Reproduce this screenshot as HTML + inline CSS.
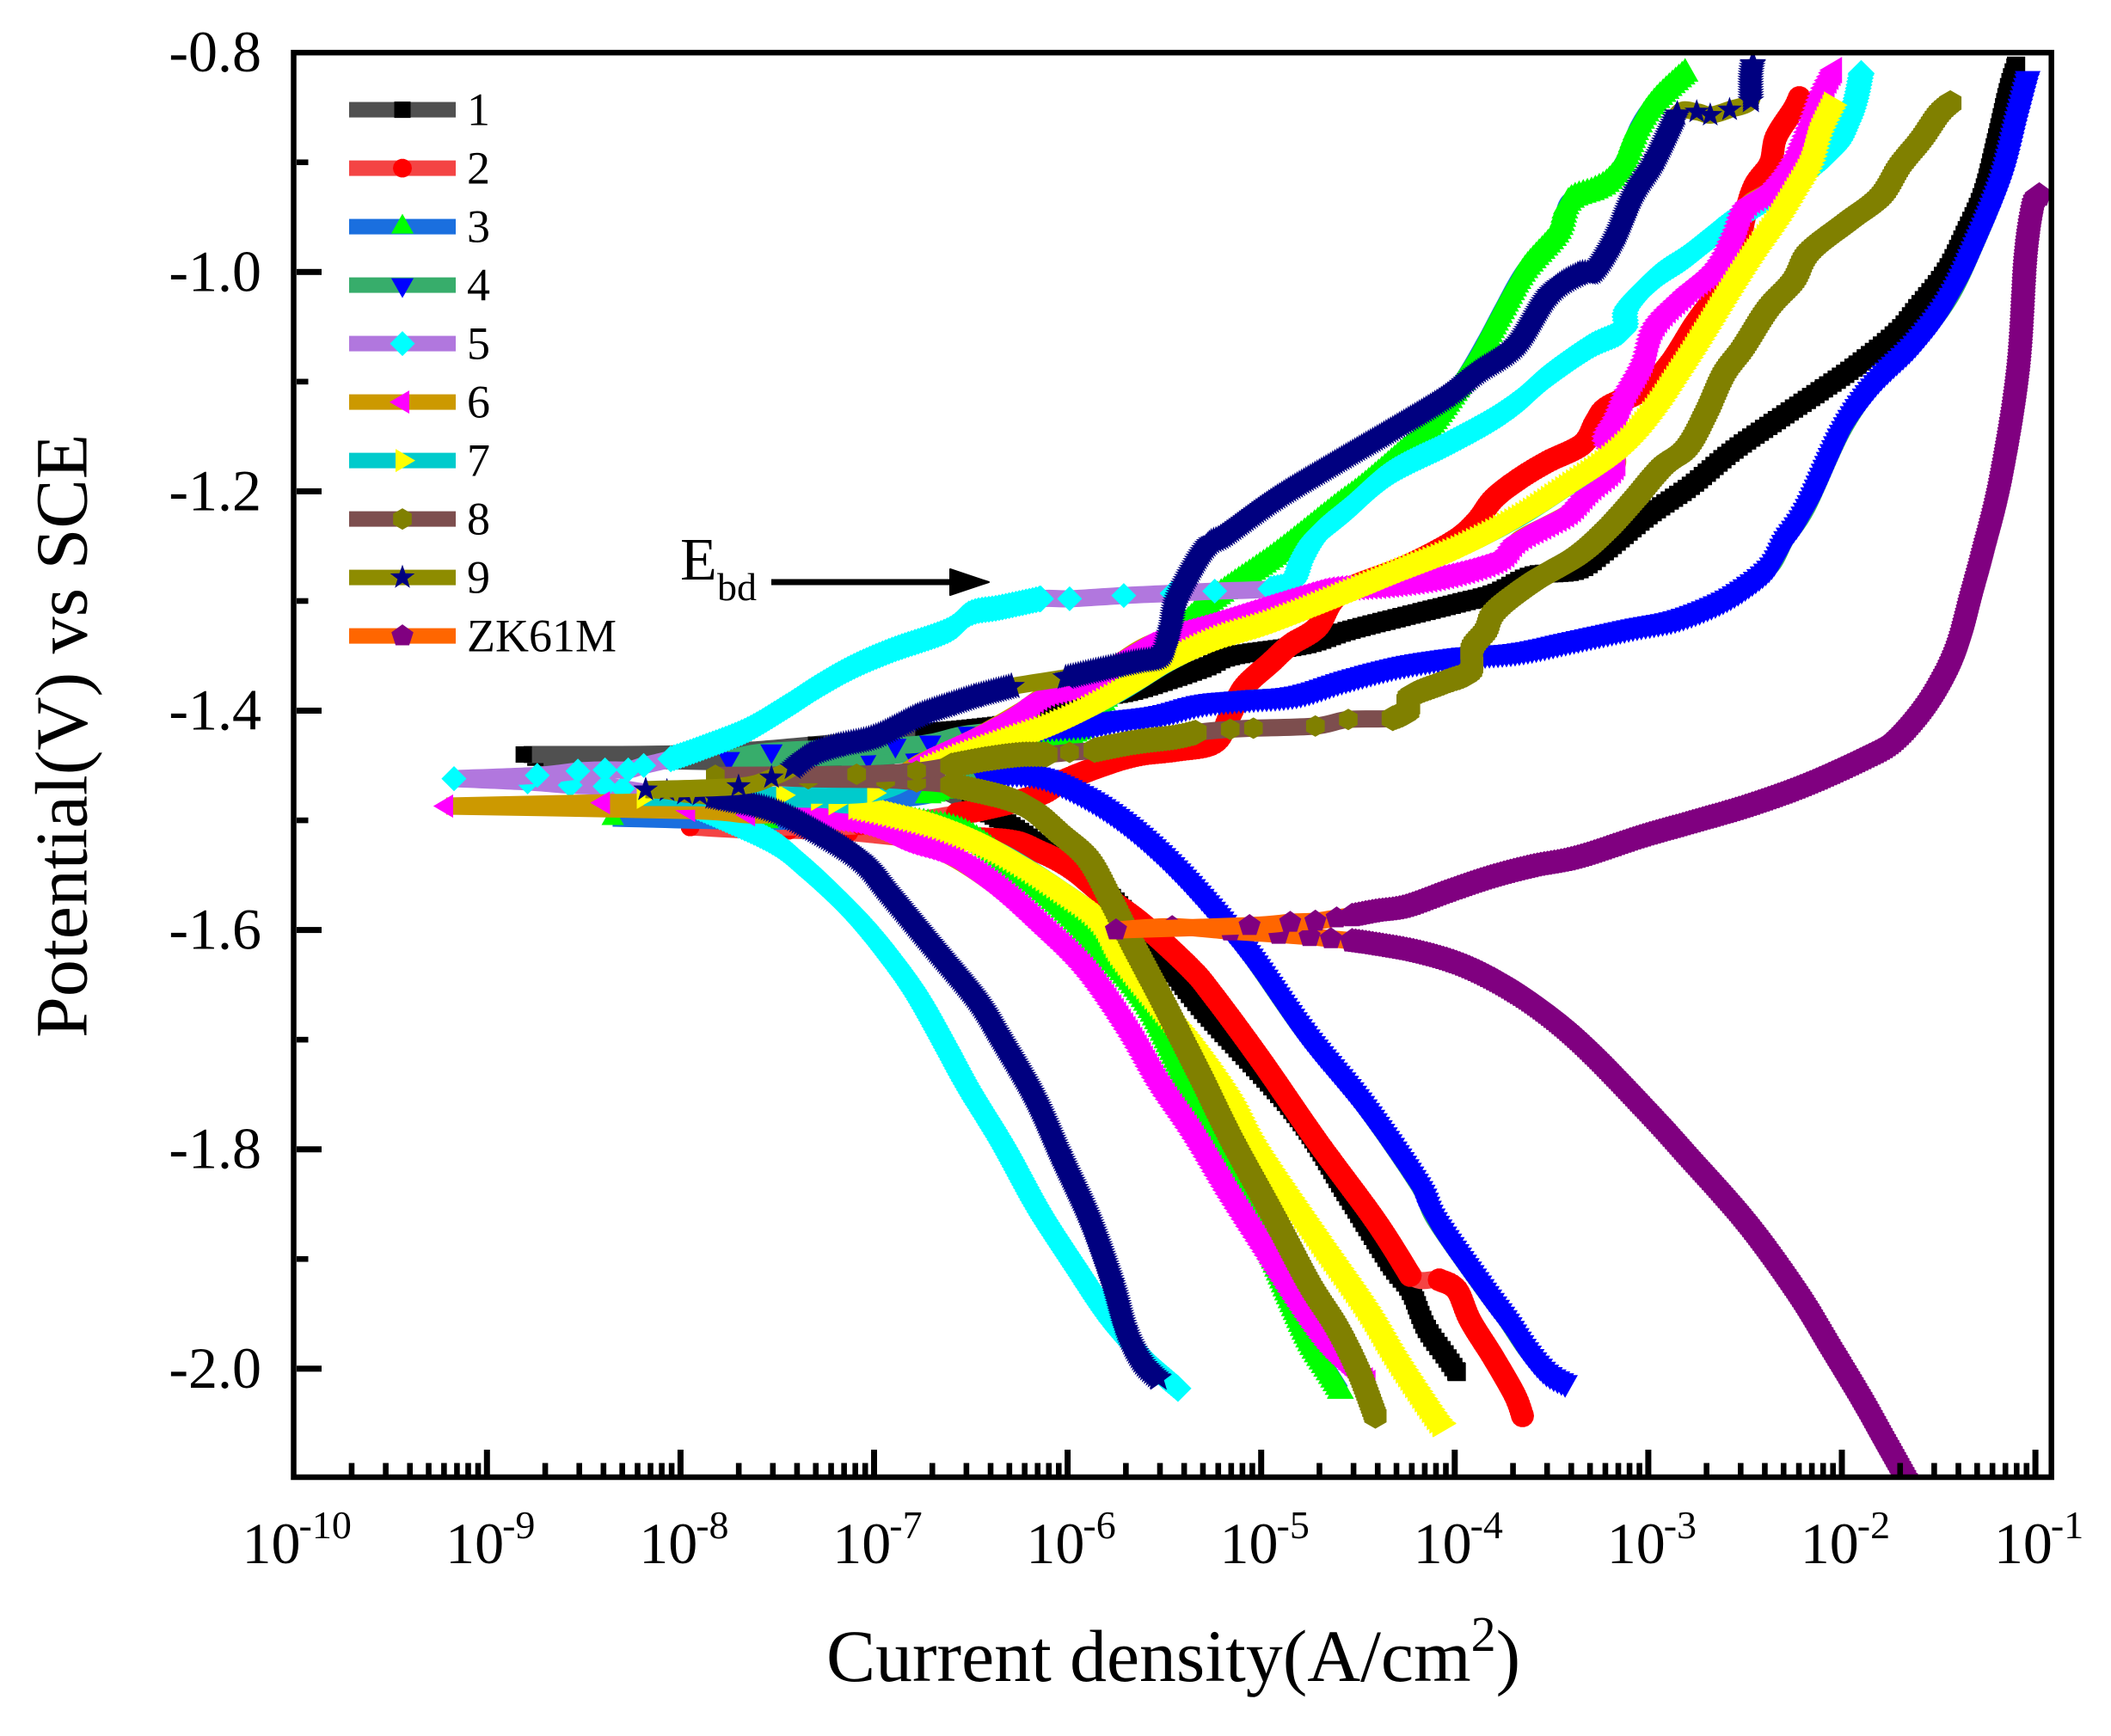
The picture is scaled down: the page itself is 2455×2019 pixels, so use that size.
<!DOCTYPE html>
<html lang="en">
<head>
<meta charset="utf-8">
<title>Polarization curves</title>
<style>
html,body{margin:0;padding:0;background:#fff;}
svg{display:block;font-family:"Liberation Serif","Times New Roman",serif;}
</style>
</head>
<body>
<svg id="chart" xmlns="http://www.w3.org/2000/svg" width="2455" height="2019" viewBox="0 0 2455 2019">
  <rect x="0" y="0" width="2455" height="2019" fill="#ffffff"/>
  <defs><clipPath id="plot-clip"><rect x="341" y="61" width="2045" height="1657"/></clipPath></defs>
  <g id="series-layer" clip-path="url(#plot-clip)"></g>
  <g id="tick-layer"></g>
  <rect x="341.5" y="61.2" width="2044.2" height="1656.8" fill="none" stroke="#000" stroke-width="6.5"/>
  <g id="legend-layer"></g>
  <text x="961" y="1955" font-size="85.7" fill="#000">Current density(A/cm<tspan font-size="58" dy="-35">2</tspan><tspan dy="35">)</tspan></text>
  <text transform="translate(100.5,1207) rotate(-90)" font-size="86" fill="#000">Potential(V) vs SCE</text>
  <text x="791" y="674" font-size="70" fill="#000">E</text>
  <text x="834" y="698" font-size="46" fill="#000">bd</text>
  <g>
    <rect x="897" y="673.5" width="210" height="7" fill="#000"/>
    <polygon points="1105,662 1150,677 1105,692" fill="#000" stroke="#000" stroke-width="2" stroke-linejoin="round"/>
  </g>
</svg>
<script>
// Tick values
const xTickExponents=[-10,-9,-8,-7,-6,-5,-4,-3,-2,-1];
const xTickLabels=['-10','-9','-8','-7','-6','-5','-4','-3','-2','-1'];
const yMajorTicks=[-0.8,-1.0,-1.2,-1.4,-1.6,-1.8,-2.0];
const yMajorLabels=['-0.8','-1.0','-1.2','-1.4','-1.6','-1.8','-2.0'];
const yMinorTicks=[-0.9,-1.1,-1.3,-1.5,-1.7,-1.9];
const seriesNames=['1','2','3','4','5','6','7','8','9','ZK61M'];

// Series 1
const s1AnodicI=[-8.81,-7.94,-7.30,-6.74,-6.48,-6.14,-6.04,-5.92,-5.66,-5.30,-5.15,-4.78,-4.55,-4.26,-3.96,-3.79,-3.60,-3.37,-3.22,-3.00,-2.78,-2.57,-2.36,-2.10,-1.93,-1.72,-1.61,-1.46,-1.36,-1.27,-1.20,-1.14,-1.10];
const s1AnodicE=[-1.440,-1.439,-1.431,-1.420,-1.416,-1.408,-1.397,-1.389,-1.382,-1.361,-1.350,-1.340,-1.327,-1.314,-1.301,-1.293,-1.277,-1.272,-1.254,-1.222,-1.195,-1.164,-1.138,-1.107,-1.086,-1.056,-1.033,-0.999,-0.964,-0.928,-0.879,-0.834,-0.812];
const s1CathodicI=[-8.75,-7.69,-7.21,-6.81,-6.50,-6.33,-6.13,-6.01,-5.77,-5.56,-5.30,-4.83,-4.55,-4.33,-4.23,-4.15,-4.04,-3.99];
const s1CathodicE=[-1.443,-1.447,-1.447,-1.461,-1.485,-1.501,-1.524,-1.536,-1.571,-1.614,-1.673,-1.766,-1.843,-1.905,-1.928,-1.962,-1.990,-2.003];
// Series 2
const s2AnodicI=[-7.95,-7.07,-6.57,-6.44,-6.15,-6.01,-5.77,-5.62,-5.43,-5.24,-5.16,-5.09,-4.95,-4.85,-4.71,-4.59,-4.26,-4.01,-3.89,-3.80,-3.67,-3.52,-3.34,-3.27,-3.21,-3.02,-2.89,-2.76,-2.66,-2.55,-2.50,-2.45,-2.37,-2.34,-2.25,-2.22];
const s2AnodicE=[-1.506,-1.505,-1.494,-1.490,-1.477,-1.463,-1.447,-1.440,-1.436,-1.429,-1.404,-1.379,-1.356,-1.340,-1.324,-1.293,-1.269,-1.246,-1.228,-1.207,-1.189,-1.173,-1.157,-1.136,-1.123,-1.107,-1.084,-1.048,-1.023,-0.987,-0.948,-0.921,-0.901,-0.877,-0.852,-0.841];
const s2CathodicI=[-7.95,-7.64,-7.44,-7.13,-6.81,-6.33,-6.15,-5.98,-5.80,-5.61,-5.37,-5.25,-5.00,-4.71,-4.41,-4.23,-4.08,-3.99,-3.92,-3.80,-3.69,-3.65];
const s2CathodicE=[-1.506,-1.509,-1.509,-1.511,-1.516,-1.518,-1.528,-1.544,-1.570,-1.595,-1.634,-1.659,-1.719,-1.793,-1.865,-1.915,-1.919,-1.928,-1.956,-1.990,-2.024,-2.043];
// Series 3
const s3AnodicI=[-8.35,-7.55,-7.07,-6.72,-6.48,-6.33,-6.07,-5.98,-5.89,-5.74,-5.59,-5.30,-4.93,-4.63,-4.48,-4.27,-4.14,-3.96,-3.84,-3.75,-3.64,-3.47,-3.41,-3.28,-3.20,-3.12,-3.05,-2.96,-2.81];
const s3AnodicE=[-1.498,-1.493,-1.483,-1.477,-1.460,-1.452,-1.432,-1.422,-1.411,-1.372,-1.358,-1.306,-1.259,-1.217,-1.197,-1.165,-1.144,-1.099,-1.063,-1.033,-0.999,-0.964,-0.936,-0.926,-0.917,-0.897,-0.867,-0.844,-0.819];
const s3CathodicI=[-8.35,-7.55,-7.07,-6.81,-6.55,-6.33,-6.04,-5.82,-5.59,-5.40,-5.24,-5.12,-5.02,-4.90,-4.85,-4.75,-4.65,-4.59];
const s3CathodicE=[-1.498,-1.501,-1.498,-1.501,-1.510,-1.536,-1.578,-1.618,-1.667,-1.732,-1.787,-1.830,-1.865,-1.915,-1.936,-1.975,-2.003,-2.020];
// Series 4
const s4AnodicI=[-7.75,-7.53,-6.89,-6.71,-6.51,-6.18,-5.89,-5.74,-5.52,-5.30,-5.07,-4.81,-4.55,-4.26,-3.96,-3.67,-3.37,-3.08,-2.85,-2.63,-2.48,-2.36,-2.29,-2.18,-2.00,-1.83,-1.61,-1.44,-1.31,-1.18,-1.10,-1.04];
const s4AnodicE=[-1.444,-1.437,-1.432,-1.429,-1.421,-1.416,-1.413,-1.408,-1.403,-1.393,-1.389,-1.385,-1.371,-1.358,-1.350,-1.346,-1.335,-1.324,-1.316,-1.301,-1.285,-1.267,-1.244,-1.215,-1.146,-1.102,-1.063,-1.023,-0.975,-0.918,-0.864,-0.824];
const s4CathodicI=[-7.75,-7.03,-6.80,-6.63,-6.44,-6.18,-5.96,-5.74,-5.52,-5.30,-5.07,-4.78,-4.48,-4.19,-4.10,-3.85,-3.74,-3.63,-3.53,-3.43];
const s4CathodicE=[-1.444,-1.442,-1.440,-1.446,-1.458,-1.458,-1.473,-1.497,-1.530,-1.571,-1.620,-1.693,-1.758,-1.832,-1.865,-1.928,-1.954,-1.983,-2.003,-2.013];
// Series 5
const s5AnodicI=[-9.17,-8.74,-8.53,-8.39,-8.27,-8.19,-8.05,-7.89,-7.66,-7.44,-7.30,-7.12,-6.91,-6.62,-6.50,-6.35,-6.14,-5.99,-5.71,-5.46,-5.24,-4.95,-4.84,-4.79,-4.71,-4.55,-4.33,-4.04,-3.82,-3.67,-3.52,-3.30,-3.13,-3.11,-2.96,-2.81,-2.68,-2.57,-2.28,-2.05,-1.97,-1.93,-1.90];
const s5AnodicE=[-1.462,-1.459,-1.455,-1.454,-1.454,-1.450,-1.444,-1.434,-1.418,-1.395,-1.379,-1.361,-1.345,-1.327,-1.311,-1.306,-1.298,-1.298,-1.295,-1.293,-1.291,-1.289,-1.283,-1.262,-1.240,-1.216,-1.183,-1.157,-1.136,-1.118,-1.095,-1.068,-1.053,-1.033,-1.005,-0.987,-0.969,-0.954,-0.921,-0.889,-0.864,-0.844,-0.819];
const s5CathodicI=[-9.17,-8.79,-8.57,-8.39,-8.30,-8.01,-7.77,-7.52,-7.37,-7.22,-7.07,-6.93,-6.78,-6.63,-6.51,-6.33,-6.15,-5.96,-5.77,-5.59,-5.43];
const s5CathodicE=[-1.462,-1.465,-1.468,-1.469,-1.471,-1.481,-1.499,-1.520,-1.541,-1.565,-1.592,-1.622,-1.659,-1.706,-1.745,-1.797,-1.855,-1.907,-1.957,-1.993,-2.018];
// Series 6
const s6AnodicI=[-9.21,-8.40,-7.67,-7.03,-6.75,-6.48,-6.24,-6.11,-5.89,-5.59,-5.22,-4.78,-4.63,-4.33,-4.04,-3.77,-3.67,-3.52,-3.40,-3.30,-3.16,-3.22,-3.16,-3.11,-3.02,-2.96,-2.81,-2.64,-2.55,-2.49,-2.36,-2.25,-2.17,-2.10,-2.04];
const s6AnodicE=[-1.487,-1.484,-1.481,-1.471,-1.446,-1.424,-1.400,-1.385,-1.374,-1.340,-1.319,-1.295,-1.289,-1.285,-1.277,-1.262,-1.244,-1.230,-1.218,-1.199,-1.175,-1.152,-1.131,-1.110,-1.081,-1.048,-1.020,-0.994,-0.964,-0.939,-0.924,-0.900,-0.870,-0.837,-0.816];
const s6CathodicI=[-9.21,-7.96,-7.65,-7.39,-7.07,-6.85,-6.63,-6.36,-6.11,-5.89,-5.68,-5.52,-5.34,-5.16,-4.99,-4.79,-4.63,-4.45];
const s6CathodicE=[-1.487,-1.491,-1.495,-1.495,-1.502,-1.518,-1.531,-1.562,-1.601,-1.640,-1.693,-1.742,-1.789,-1.842,-1.889,-1.944,-1.983,-2.013];
// Series 7
const s7AnodicI=[-8.19,-7.47,-7.00,-6.72,-6.55,-6.33,-6.04,-5.74,-5.47,-5.22,-4.93,-4.55,-4.26,-3.96,-3.67,-3.44,-3.22,-3.08,-2.96,-2.87,-2.76,-2.60,-2.47,-2.34,-2.25,-2.17,-2.12,-2.05];
const s7AnodicE=[-1.479,-1.477,-1.475,-1.454,-1.442,-1.429,-1.411,-1.385,-1.356,-1.335,-1.319,-1.293,-1.272,-1.251,-1.225,-1.199,-1.173,-1.150,-1.123,-1.099,-1.069,-1.023,-0.987,-0.954,-0.928,-0.903,-0.874,-0.848];
const s7CathodicI=[-8.19,-7.29,-7.20,-7.09,-6.93,-6.63,-6.33,-6.04,-5.84,-5.73,-5.52,-5.36,-5.17,-5.03,-4.73,-4.47,-4.31,-4.12,-4.07];
const s7CathodicE=[-1.479,-1.481,-1.485,-1.487,-1.493,-1.507,-1.530,-1.562,-1.589,-1.622,-1.669,-1.703,-1.751,-1.797,-1.875,-1.941,-1.988,-2.039,-2.050];
// Series 8
const s8AnodicI=[-7.82,-7.09,-6.78,-6.60,-6.42,-6.24,-6.11,-5.99,-5.86,-5.66,-5.44,-5.34,-5.16,-5.04,-4.72,-4.55,-4.32,-4.24,-4.23,-4.05,-3.92,-3.91,-3.84,-3.79,-3.60,-3.37,-3.22,-3.08,-2.93,-2.80,-2.70,-2.61,-2.51,-2.38,-2.25,-2.17,-1.97,-1.80,-1.70,-1.59,-1.50,-1.44];
const s8AnodicE=[-1.459,-1.458,-1.455,-1.450,-1.444,-1.440,-1.440,-1.438,-1.436,-1.429,-1.424,-1.420,-1.417,-1.416,-1.414,-1.408,-1.407,-1.400,-1.387,-1.374,-1.364,-1.343,-1.327,-1.309,-1.283,-1.259,-1.236,-1.209,-1.178,-1.160,-1.128,-1.093,-1.069,-1.033,-1.008,-0.982,-0.954,-0.931,-0.903,-0.879,-0.856,-0.846];
const s8CathodicI=[-7.82,-7.34,-6.94,-6.78,-6.60,-6.33,-6.18,-6.04,-5.89,-5.77,-5.66,-5.52,-5.40,-5.30,-5.15,-4.93,-4.75,-4.61,-4.50,-4.41];
const s8CathodicE=[-1.459,-1.462,-1.463,-1.465,-1.468,-1.479,-1.491,-1.512,-1.536,-1.575,-1.614,-1.661,-1.703,-1.738,-1.792,-1.863,-1.923,-1.962,-2.001,-2.043];
// Series 9
const s9AnodicI=[-8.18,-7.70,-7.53,-7.42,-7.33,-7.19,-7.00,-6.78,-6.62,-6.48,-6.29,-6.01,-5.84,-5.66,-5.52,-5.47,-5.44,-5.35,-5.27,-5.19,-4.93,-4.63,-4.33,-4.04,-3.89,-3.68,-3.51,-3.36,-3.28,-3.17,-3.07,-2.96,-2.85,-2.75,-2.68,-2.58,-2.47,-2.47,-2.46];
const s9AnodicE=[-1.472,-1.469,-1.461,-1.452,-1.440,-1.432,-1.424,-1.405,-1.395,-1.387,-1.378,-1.370,-1.363,-1.356,-1.350,-1.327,-1.301,-1.269,-1.248,-1.240,-1.207,-1.175,-1.144,-1.113,-1.092,-1.066,-1.020,-1.002,-0.999,-0.969,-0.928,-0.897,-0.856,-0.854,-0.857,-0.852,-0.844,-0.823,-0.810];
const s9CathodicI=[-8.18,-8.07,-7.98,-7.90,-7.83,-7.77,-7.52,-7.30,-7.07,-6.93,-6.71,-6.48,-6.36,-6.18,-6.04,-5.89,-5.77,-5.70,-5.62,-5.53];
const s9CathodicE=[-1.472,-1.473,-1.476,-1.477,-1.479,-1.481,-1.491,-1.510,-1.536,-1.565,-1.612,-1.661,-1.695,-1.750,-1.805,-1.863,-1.922,-1.965,-1.993,-2.009];
// Series ZK61M
const s10AnodicI=[-5.75,-5.06,-4.85,-4.72,-4.61,-4.53,-4.41,-4.26,-4.04,-3.82,-3.60,-3.37,-3.04,-2.78,-2.49,-2.19,-1.89,-1.74,-1.60,-1.49,-1.40,-1.33,-1.27,-1.18,-1.09,-1.05,-1.01,-0.98];
const s10AnodicE=[-1.600,-1.596,-1.593,-1.592,-1.589,-1.587,-1.583,-1.579,-1.565,-1.552,-1.542,-1.534,-1.515,-1.502,-1.487,-1.468,-1.444,-1.429,-1.403,-1.374,-1.340,-1.295,-1.256,-1.191,-1.092,-0.987,-0.939,-0.930];
const s10CathodicI=[-5.75,-5.46,-5.16,-4.91,-4.75,-4.64,-4.53,-4.41,-4.19,-3.96,-3.74,-3.52,-3.30,-3.00,-2.82,-2.50,-2.24,-2.07,-1.90,-1.77,-1.63];
const s10CathodicE=[-1.600,-1.597,-1.601,-1.604,-1.606,-1.608,-1.610,-1.613,-1.620,-1.632,-1.651,-1.677,-1.711,-1.766,-1.801,-1.865,-1.928,-1.977,-2.027,-2.068,-2.112];

// Axis functions
const xScale=v=>341.2+(v+10)*225.1;
const yScale=v=>61.2+(-0.8-v)*1275.5;

const seriesStyles=[
 {marker:'square',color:'#000000',line:'#505050',scale:1.12,step:6,aD:[[3,null]],cD:[[4,null]]},
 {marker:'circle',color:'#ff0000',line:'#f44444',scale:1.22,step:4,aD:[[2,null]],cD:[[4,15],[16,null]]},
 {marker:'up',color:'#00ff00',line:'#1a6fdf',scale:1.2,step:5,aD:[[3,null]],cD:[[3,null]]},
 {marker:'down',color:'#0000ff',line:'#37ad6b',scale:1.15,step:5,aD:[[5,null]],cD:[[4,null]]},
 {marker:'diamond',color:'#00ffff',line:'#b177de',scale:1.08,step:4,aD:[[6,16],[21,null]],cD:[[5,null]]},
 {marker:'left',color:'#ff00ff',line:'#cc9900',scale:1.15,step:5,aD:[[4,null]],cD:[[3,null]]},
 {marker:'right',color:'#ffff00',line:'#00cbcc',scale:1.2,step:5,aD:[[3,null]],cD:[[3,null]]},
 {marker:'hexagon',color:'#808000',line:'#7d4e4e',scale:1.2,step:4,aD:[[3,6],[8,11],[16,null]],cD:[[4,null]]},
 {marker:'star',color:'#000080',line:'#8e8c00',scale:1.1,step:3,aD:[[3,10],[11,32],[36,null]],cD:[[4,null]]},
 {marker:'pentagon',color:'#800080',line:'#ff6600',scale:1.12,step:4,aD:[[5,null]],cD:[[6,null]]}
];
const seriesData=[
 [s1AnodicI,s1AnodicE,s1CathodicI,s1CathodicE],
 [s2AnodicI,s2AnodicE,s2CathodicI,s2CathodicE],
 [s3AnodicI,s3AnodicE,s3CathodicI,s3CathodicE],
 [s4AnodicI,s4AnodicE,s4CathodicI,s4CathodicE],
 [s5AnodicI,s5AnodicE,s5CathodicI,s5CathodicE],
 [s6AnodicI,s6AnodicE,s6CathodicI,s6CathodicE],
 [s7AnodicI,s7AnodicE,s7CathodicI,s7CathodicE],
 [s8AnodicI,s8AnodicE,s8CathodicI,s8CathodicE],
 [s9AnodicI,s9AnodicE,s9CathodicI,s9CathodicE],
 [s10AnodicI,s10AnodicE,s10CathodicI,s10CathodicE]
];

const NS='http://www.w3.org/2000/svg';
function svgEl(tag,parent){const e=document.createElementNS(NS,tag);parent.appendChild(e);return e;}
function regular(x,y,r,n,start){
  const a=[];
  for(let i=0;i<n;i++){const t=start+i*2*Math.PI/n;a.push([x+r*Math.cos(t),y+r*Math.sin(t)]);}
  return a;
}
function markerPoints(type,x,y,s){
  if(type==='square'){return [[x-9.5*s,y-9.5*s],[x+9.5*s,y-9.5*s],[x+9.5*s,y+9.5*s],[x-9.5*s,y+9.5*s]];}
  if(type==='circle'){return regular(x,y,11*s,18,0);}
  if(type==='up'){return [[x,y-15*s],[x+13*s,y+8*s],[x-13*s,y+8*s]];}
  if(type==='down'){return [[x,y+15*s],[x-13*s,y-8*s],[x+13*s,y-8*s]];}
  if(type==='left'){return [[x-15*s,y],[x+8*s,y-13.5*s],[x+8*s,y+13.5*s]];}
  if(type==='right'){return [[x+15*s,y],[x-8*s,y+13.5*s],[x-8*s,y-13.5*s]];}
  if(type==='diamond'){return [[x,y-14.5*s],[x+14.5*s,y],[x,y+14.5*s],[x-14.5*s,y]];}
  if(type==='hexagon'){return regular(x,y,12.5*s,6,-Math.PI/2);}
  if(type==='pentagon'){return regular(x,y,13.5*s,5,-Math.PI/2);}
  const pts=[];
  for(let i=0;i<10;i++){const r=(i%2?6:15)*s;const t=-Math.PI/2+i*Math.PI/5;pts.push([x+r*Math.cos(t),y+r*Math.sin(t)]);}
  return pts;
}
function pointsToD(pts){
  return 'M'+pts.map(q=>q[0].toFixed(1)+' '+q[1].toFixed(1)).join('L')+'Z';
}
function drawMarker(parent,type,x,y,fill){
  const m=svgEl('path',parent);
  m.setAttribute('d',pointsToD(markerPoints(type,x,y,1)));
  m.setAttribute('fill',fill);
  return m;
}
// Smooth path through the data points in the given index range
function pathFrom(I,E,from,to){
  const p=[];
  for(let k=from;k<=to;k++){p.push([xScale(I[k]),yScale(E[k])]);}
  let s='M'+p[0][0].toFixed(1)+' '+p[0][1].toFixed(1);
  for(let k=0;k<p.length-1;k++){
    const a=p[Math.max(k-1,0)],b=p[k],c=p[k+1],d=p[Math.min(k+2,p.length-1)];
    const c1x=b[0]+(c[0]-a[0])/6,c1y=b[1]+(c[1]-a[1])/6,c2x=c[0]-(d[0]-b[0])/6,c2y=c[1]-(d[1]-b[1])/6;
    s+='C'+c1x.toFixed(1)+' '+c1y.toFixed(1)+' '+c2x.toFixed(1)+' '+c2y.toFixed(1)+' '+c[0].toFixed(1)+' '+c[1].toFixed(1);
  }
  return s;
}
function drawBranch(group,I,E,style,ranges,branch){
  const band=svgEl('path',group);
  
  
  band.setAttribute('d',pathFrom(I,E,0,I.length-1));
  band.setAttribute('fill','none');
  band.setAttribute('stroke',style.line);
  band.setAttribute('stroke-width',20);
  band.setAttribute('stroke-linejoin','round');
  ranges.forEach(r=>{
    const guide=svgEl('path',group);
    guide.setAttribute('d',pathFrom(I,E,r[0],r[1]===null?I.length-1:r[1]));
    const len=guide.getTotalLength();
    let d='';
    for(let l=0;l<=len;l+=style.step){
      const q=guide.getPointAtLength(l);
      d+=pointsToD(markerPoints(style.marker,q.x,q.y,style.scale));
    }
    const q=guide.getPointAtLength(len);
    d+=pointsToD(markerPoints(style.marker,q.x,q.y,style.scale));
    
    
    guide.setAttribute('d',d);
    guide.setAttribute('fill',style.color);
  });
  for(let k=0;k<I.length;k++){
    const mark=drawMarker(group,style.marker,xScale(I[k]),yScale(E[k]),style.color);
    
    
  }
}

const seriesLayer=document.getElementById('series-layer');
seriesData.forEach((d,i)=>{
  const g=svgEl('g',seriesLayer);
  
  
  const st=seriesStyles[i];
  drawBranch(g,d[2],d[3],st,st.cD,'cathodic');
  drawBranch(g,d[0],d[1],st,st.aD,'anodic');
});

// Ticks and tick labels
const tickLayer=document.getElementById('tick-layer');
function tickRect(x,y,w,h,name){
  const t=svgEl('rect',tickLayer);
  
  
  t.setAttribute('x',x);t.setAttribute('y',y);t.setAttribute('width',w);t.setAttribute('height',h);t.setAttribute('fill','#000');
}
const xBase=1716;
xTickExponents.forEach((ex,i)=>{
  const tx=xScale(ex);
  if(i>0){tickRect(tx-3.5,xBase-30,7,30,'x-major-tick');}
  if(ex<-1){
    for(let m=2;m<=9;m++){
      tickRect(xScale(ex+Math.log10(m))-3.3,xBase-14.5,6.6,14.5,'x-minor-tick');
    }
  }
  const label=svgEl('text',tickLayer);
  
  
  label.setAttribute('font-size','68');
  label.setAttribute('y','1818');
  label.setAttribute('fill','#000');
  const supWidth=46*(0.333+0.5*(xTickLabels[i].length-1));
  label.setAttribute('x',(tx+4-(66+supWidth)/2).toFixed(1));
  label.appendChild(document.createTextNode('10'));
  const sup=svgEl('tspan',label);
  sup.setAttribute('font-size','46');
  sup.setAttribute('dy','-29');
  sup.setAttribute('dx','-2');
  sup.textContent=xTickLabels[i];
});
yMajorTicks.forEach((v,i)=>{
  const ty=yScale(v);
  if(i>0){tickRect(345,ty-3.5,29,7,'y-major-tick');}
  const label=svgEl('text',tickLayer);
  
  
  label.setAttribute('font-size','68');
  label.setAttribute('x','304');
  label.setAttribute('y',(ty+22).toFixed(1));
  label.setAttribute('text-anchor','end');
  label.setAttribute('fill','#000');
  label.textContent=yMajorLabels[i];
});
yMinorTicks.forEach(v=>{
  tickRect(345,yScale(v)-3.3,13.5,6.6,'y-minor-tick');
});

// Legend
const legendLayer=document.getElementById('legend-layer');
seriesNames.forEach((n,i)=>{
  const cy=127.6+i*68;
  const st=seriesStyles[i];
  const entry=svgEl('g',legendLayer);
  
  
  const sw=svgEl('rect',entry);
  
  
  sw.setAttribute('x',406);sw.setAttribute('y',cy-9);sw.setAttribute('width',124);sw.setAttribute('height',18);sw.setAttribute('fill',st.line);
  const mk=drawMarker(entry,st.marker,468,cy,st.color);
  
  
  const tx=svgEl('text',entry);
  
  
  tx.setAttribute('x',543);tx.setAttribute('y',cy+17.8);tx.setAttribute('font-size',54);tx.setAttribute('fill','#000');
  tx.textContent=n;
});
</script>
</body>
</html>
